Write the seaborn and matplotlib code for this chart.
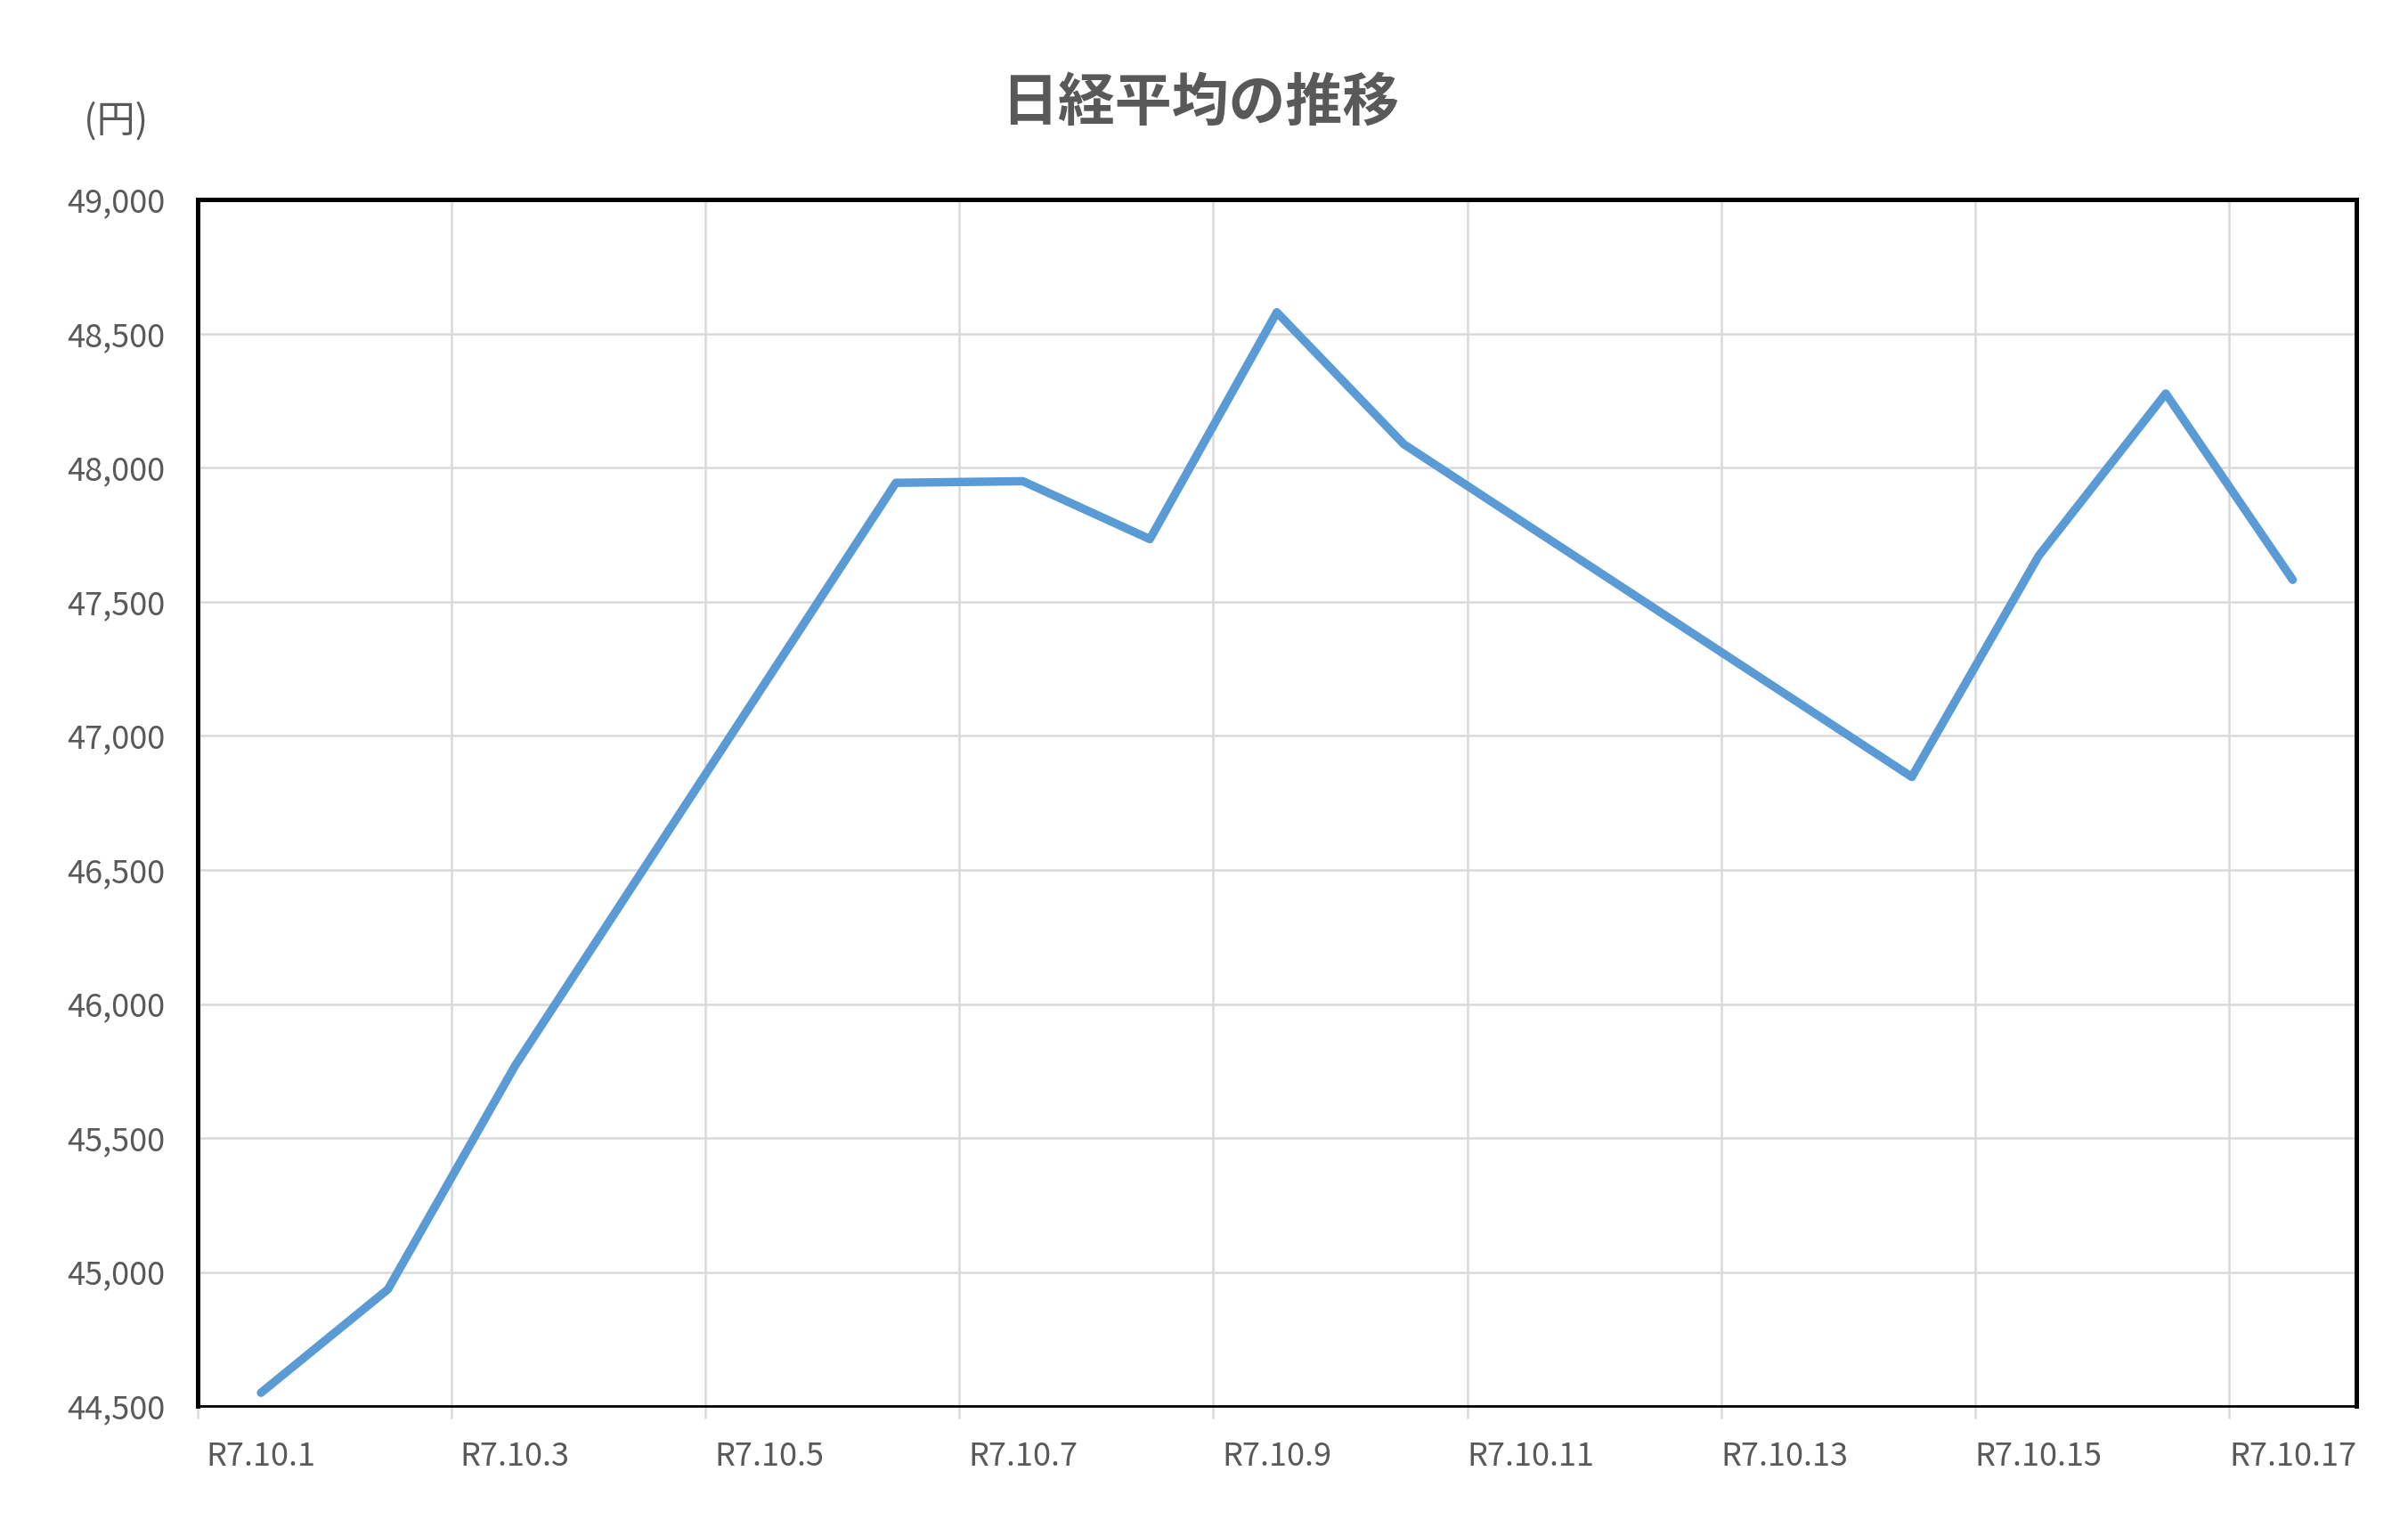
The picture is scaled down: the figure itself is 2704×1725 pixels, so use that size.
import numpy as np
import pandas as pd
import matplotlib
matplotlib.use('Agg')
import matplotlib.pyplot as plt
import seaborn as sns

# data
days = [1, 2, 3, 6, 7, 8, 9, 10, 14, 15, 16, 17]
closes = [44550, 44936, 45769, 47944, 47950, 47734, 48580, 48088, 46847, 47672, 48277, 47582]
label_days = [1, 3, 5, 7, 9, 11, 13, 15, 17]
tick_labels = ['R7.10.%d' % d for d in label_days]
y_ticks = list(range(44500, 49001, 500))

df = pd.DataFrame({'day': days, 'close': closes})

sns.set_theme(style='white')
plt.rcParams['font.family'] = ['Noto Sans CJK JP', 'DejaVu Sans']

text_c = '#595959'
grid_c = '#d9d9d9'

fig = plt.figure(figsize=(13.52, 8.625), dpi=200)
ax = fig.add_axes([0.082, 0.0845, 0.8965, 0.7855])

sns.lineplot(data=df, x='day', y='close', ax=ax, color='#5B9BD5',
             linewidth=3.4, solid_capstyle='round', solid_joinstyle='round')

ax.set_xlim(0.5, 17.5)
ax.set_ylim(44500, 49000)

ax.set_yticks(y_ticks)
ax.set_yticklabels(['{:,}'.format(v) for v in y_ticks])
ax.set_xticks(label_days)
ax.set_xticklabels(tick_labels)
ax.set_xticks(np.arange(0.5, 17.6, 2.0), minor=True)

ax.grid(False)
ax.yaxis.grid(True, color=grid_c, linewidth=0.9)
ax.xaxis.grid(True, which='minor', color=grid_c, linewidth=0.9)
ax.set_axisbelow(True)

ax.tick_params(axis='x', which='major', length=0, pad=14, labelsize=13, labelcolor=text_c)
ax.tick_params(axis='x', which='minor', length=5, width=0.9, color=grid_c, direction='out', bottom=True)
ax.tick_params(axis='y', length=0, pad=13, labelsize=13, labelcolor=text_c)

for side in ['top', 'left', 'right']:
    ax.spines[side].set_color('black')
    ax.spines[side].set_linewidth(1.8)
ax.spines['bottom'].set_color('black')
ax.spines['bottom'].set_linewidth(1.0)

ax.set_xlabel('')
ax.set_ylabel('')

fig.text(0.4985, 0.933, '日経平均の推移', ha='center', va='center',
         fontsize=23, fontweight='bold', color=text_c)
fig.text(0.048, 0.921, '(円)', ha='center', va='center', fontsize=15.5, color=text_c)

fig.savefig('out.png', dpi=200)
